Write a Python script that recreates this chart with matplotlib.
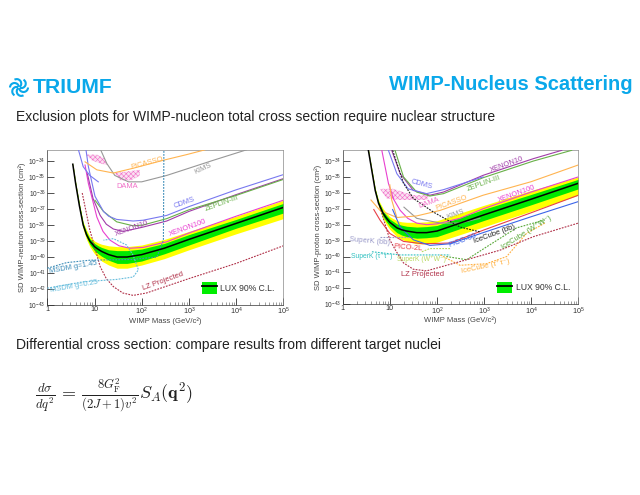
import numpy as np
import matplotlib
matplotlib.use('Agg')
import matplotlib.pyplot as plt
from matplotlib.patches import Arc, Patch
from matplotlib.lines import Line2D

plt.rcParams['font.family'] = ['Liberation Sans', 'DejaVu Sans']
plt.rcParams['mathtext.fontset'] = 'cm'
plt.rcParams['hatch.linewidth'] = 0.4

# All curves: log10(mass / GeV), log10(sigma / cm^2)
# ---------- left panel (SD WIMP-neutron)
L_lux_m = [.54,.60,.68,.76,.83,.90,1.0,1.08,1.15,1.30,1.48,1.69,2.0,2.48,3,4,5]
L_lux_s = [-34.2,-35.4,-36.8,-38.0,-38.6,-39.0,-39.35,-39.52,-39.65,-39.85,-40.0,-40.0,-39.85,-39.45,-38.9,-37.9,-36.9]
L_yel_hi = [-34.1,-35.3,-36.65,-37.8,-38.3,-38.7,-39.0,-39.12,-39.2,-39.3,-39.35,-39.35,-39.25,-38.9,-38.4,-37.45,-36.45]
L_yel_lo = [-34.3,-35.5,-36.95,-38.25,-38.9,-39.35,-39.8,-40.05,-40.25,-40.5,-40.7,-40.7,-40.5,-40.1,-39.55,-38.55,-37.6]
L_grn_hi = [-34.15,-35.35,-36.72,-37.9,-38.45,-38.85,-39.15,-39.3,-39.4,-39.55,-39.6,-39.6,-39.5,-39.15,-38.6,-37.65,-36.65]
L_grn_lo = [-34.25,-35.45,-36.88,-38.12,-38.75,-39.2,-39.6,-39.8,-39.95,-40.2,-40.4,-40.4,-40.25,-39.8,-39.25,-38.2,-37.25]

L_xe100_m = [.80,.87,1.05,1.18,1.33,1.52,1.75,2.03,2.53,3,4,5]
L_xe100_s = [-34.25,-35.4,-37.5,-38.4,-38.95,-39.3,-39.45,-39.4,-39.05,-38.5,-37.45,-36.45]
L_xe10_m = [.85,.97,1.12,1.25,1.4,1.61,2,2.53,3,4,5]
L_xe10_s = [-34.8,-36.35,-37.4,-37.95,-38.25,-38.4,-38.15,-37.75,-37.15,-36.1,-35.1]
L_zep_m = [1.01,1.19,1.47,1.82,2.03,2.53,3,4,5]
L_zep_s = [-36.45,-37.15,-37.8,-38.05,-38,-37.6,-37.05,-36.15,-35.15]
L_cdms_m = [.82,.87,1.01,1.19,1.3,1.47,1.82,2.03,2.53,3,4,5]
L_cdms_s = [-33.3,-34.35,-36.2,-37.15,-37.45,-37.65,-37.75,-37.7,-37.4,-36.85,-35.8,-34.85]
L_cdms2_m = [.66,.76,.90,1.08]
L_cdms2_s = [-33.3,-34.35,-34.9,-35.3]
L_kims_m = [1.13,1.26,1.43,1.72,2,2.53,3,3.52,4.22]
L_kims_s = [-33.3,-34.15,-34.9,-35.3,-35.3,-34.9,-34.45,-33.95,-33.3]
L_pic_m = [.8,1.05,1.4,1.82,2.46,2.95,3.34]
L_pic_s = [-34.05,-34.55,-34.75,-34.45,-33.95,-33.6,-33.3]
L_lz_m = [.74,.9,1.12,1.25,1.4,1.6,1.82,2.1,3,4,5]
L_lz_s = [-36.0,-38.3,-40.6,-41.35,-41.85,-42.25,-42.4,-42.25,-41.35,-40.4,-39.3]
L_ms145_m = [0,.41,.9,1.82,2.32,2.46,2.47]
L_ms145_s = [-40.7,-40.35,-40.2,-40.15,-40,-38.95,-33.3]
L_ms025_m = [0,.76,1.47,1.82,1.93,1.82,1.68,1.4,1.19]
L_ms025_s = [-41.95,-41.55,-41.4,-41.25,-40.8,-39.9,-39.25,-38.85,-38.95]
L_dama1_m = [.82,1.05,1.22,1.26,1.12,.94]
L_dama1_s = [-33.6,-33.6,-33.85,-34.25,-34.15,-33.95]
L_dama2_m = [1.43,1.96,1.96,1.79,1.54]
L_dama2_s = [-34.75,-34.55,-34.9,-35.2,-35.2]

# ---------- right panel (SD WIMP-proton)
R_lux_m = [.545,.69,.76,.86,.93,1,1.15,1.25,1.36,1.57,1.78,2,2.98,4,5]
R_lux_s = [-33.33,-35.85,-36.65,-37.3,-37.6,-37.85,-38.2,-38.32,-38.4,-38.5,-38.5,-38.4,-37.4,-36.4,-35.4]
R_yel_hi = [-33.25,-35.7,-36.45,-37.0,-37.28,-37.5,-37.75,-37.82,-37.85,-37.85,-37.82,-37.75,-36.8,-35.85,-35.0]
R_yel_lo = [-33.4,-36.0,-36.85,-37.65,-38.0,-38.3,-38.75,-38.92,-39.05,-39.2,-39.2,-39.1,-38.15,-37.15,-36.15]
R_grn_hi = [-33.3,-35.78,-36.55,-37.15,-37.42,-37.65,-37.95,-38.03,-38.1,-38.15,-38.12,-38.05,-37.05,-36.1,-35.15]
R_grn_lo = [-33.36,-35.92,-36.75,-37.5,-37.82,-38.1,-38.5,-38.65,-38.75,-38.85,-38.82,-38.75,-37.75,-36.75,-35.75]

R_xe100_m = [.83,.97,1.08,1.22,1.38,1.57,1.78,2,2.49,2.98,4,5]
R_xe100_s = [-33.33,-35.4,-36.4,-37.1,-37.6,-37.9,-38.0,-37.95,-37.6,-37,-35.95,-35]
R_xe10_m = [1.04,1.22,1.5,1.85,2.14,2.98,4.05,4.65]
R_xe10_s = [-33.33,-34.8,-35.85,-36.15,-35.95,-34.9,-33.85,-33.33]
R_zep_m = [1.11,1.29,1.57,1.85,2.14,2.98,4.05,4.86]
R_zep_s = [-33.33,-35,-35.95,-36.2,-36.05,-35.05,-34,-33.33]
R_cdms_m = [.97,1.15,1.39,1.78,2.14,2.98]
R_cdms_s = [-33.33,-34.8,-35.75,-36.05,-35.8,-35]
R_kims_m = [1.3,1.57,2.07,2.49,2.91]
R_kims_s = [-36.9,-37.6,-37.9,-37.9,-37.6]
R_pic_m = [.6,.79,1.15,1.57,2.07,2.98,4,5]
R_pic_s = [-36.45,-37.1,-37.55,-37.45,-37.1,-36.15,-35.3,-34.25]
R_pic2_m = [1,1.04,1.15]
R_pic2_s = [-35.5,-36.45,-37.55]
R_p2l_m = [.66,.79,1,1.29,1.71,2.28,2.98,4,5]
R_p2l_s = [-37.05,-37.7,-38.55,-39.05,-39.2,-39.15,-38.35,-37.25,-36.15]
R_p60_m = [1.06,1.22,1.5,1.85,2.28,2.98,4,5]
R_p60_s = [-37.05,-38.15,-38.95,-39.3,-39.2,-38.5,-37.5,-36.55]
R_icbb_m = [1.06,1.29,1.5,1.92,2.49,2.91]
R_icbb_s = [-33.33,-35.4,-36.35,-37.2,-38.15,-38.45]
R_skbb_m = [.79,1.43]
R_skbb_s = [-38.8,-38.8]
R_sktt_m = [.62,1.22,2.28]
R_sktt_s = [-39.7,-39.9,-39.9]
R_skww_m = [1.68,1.85,2.28]
R_skww_s = [-39.7,-39.5,-39.5]
R_icww_m = [2.2,2.63,3.05,3.69,4.29]
R_icww_s = [-40,-40.2,-39.4,-38.2,-37.7]
R_ictt_m = [2.07,2.49,3.05,3.48,3.9,4.29]
R_ictt_s = [-39.9,-40.55,-40.45,-40,-38.55,-37.9]
R_lz_m = [.79,1,1.12,1.29,1.5,1.78,2.63,3.34,4.05,5]
R_lz_s = [-36.9,-38.95,-39.6,-40.4,-40.8,-40.9,-40.2,-39.6,-38.75,-37.9]
R_dama_m = [.79,1.07,1.5,1.85,1.78,1.22,.93]
R_dama_s = [-35.75,-35.75,-36.15,-36.15,-36.45,-36.45,-36.35]

title = 'WIMP-Nucleus Scattering'
line1 = 'Exclusion plots for WIMP-nucleon total cross section require nuclear structure'
line2 = 'Differential cross section: compare results from different target nuclei'
equation = r'$\frac{d\sigma}{dq^2}\,=\,\frac{8G_{\mathrm{F}}^2}{(2J+1)v^2}S_A(\mathbf{q}^2)$'

BLUE_T = '#0aa8ea'
C = dict(xe100='#e83fd0', xe10='#a03ca8', zep='#68b048', cdms='#7878f0', kims='#989898',
         pic='#ffb450', lz='#b03048', ms145='#3c8cb8', ms025='#64bcdc', dama='#f070c8',
         p2l='#e84048', p60='#3c64e8', icbb='#202020', skbb='#9898c8', sktt='#30c0c0',
         skww='#b8d860', icww='#58a838', ictt='#ffb040')

W, H = 640, 495
fig = plt.figure(figsize=(W / 100, H / 100), dpi=100, facecolor='white')


def make_axes(x0, x1, y0, y1):
    ax = fig.add_axes([x0 / W, 1 - y1 / H, (x1 - x0) / W, (y1 - y0) / H])
    ax.set_xscale('log')
    ax.set_yscale('log')
    ax.set_xlim(1, 1e5)
    ax.set_ylim(1e-43, 10 ** -33.31)
    ax.set_yticks([10.0 ** e for e in range(-43, -33)])
    ax.set_xticks([10.0 ** e for e in range(0, 6)])
    ax.set_xticklabels(['1', '10', '$\\mathdefault{10^{2}}$', '$\\mathdefault{10^{3}}$',
                        '$\\mathdefault{10^{4}}$', '$\\mathdefault{10^{5}}$'])
    ax.xaxis.set_minor_locator(matplotlib.ticker.LogLocator(10, subs=np.arange(2, 10), numticks=12))
    ax.yaxis.set_minor_locator(matplotlib.ticker.NullLocator())
    ax.tick_params(which='major', direction='in', length=5, width=0.6, labelsize=4.8,
                   color='#333333', labelcolor='#333333', pad=1.2)
    ax.tick_params(axis='x', which='major', labelsize=5.2, pad=0.8)
    ax.tick_params(which='minor', direction='in', length=2.2, width=0.4, color='#555555')
    for s in ax.spines.values():
        s.set_linewidth(0.5)
        s.set_color('#888888')
    ax.spines['left'].set_color('#333333')
    ax.spines['bottom'].set_color('#333333')
    ax.set_xlabel('WIMP Mass (GeV/c²)', fontsize=5.5, color='#444444')
    ax.xaxis.set_label_coords(0.5, -0.078)
    return ax


def curve(ax, m, s, color, dashed=False, lw=0.8):
    ax.plot(10.0 ** np.array(m), 10.0 ** np.array(s), color=color, lw=lw,
            ls=(0, (1.6, 1.1)) if dashed else '-', solid_joinstyle='round', zorder=3)


def band(ax, m, hi, lo, color, z):
    ax.fill_between(10.0 ** np.array(m), 10.0 ** np.array(lo), 10.0 ** np.array(hi),
                    color=color, lw=0, zorder=z)


def blob(ax, m, s):
    ax.fill(10.0 ** np.array(m), 10.0 ** np.array(s), facecolor='#fbe0f2', edgecolor=C['dama'],
            hatch='xxxxxxx', lw=0, zorder=2)


def lab(ax, fx, fy, text, color, rot=0, size=5.4):
    ax.text(fx, fy, text, transform=ax.transAxes, color=color, fontsize=size, rotation=rot,
            ha='center', va='center', rotation_mode='anchor', zorder=6)


def legend(ax, fx, fy):
    h = (Patch(facecolor='#00ee00', edgecolor='none'), Line2D([0], [0], color='black', lw=1.3))
    leg = ax.legend([h], ['LUX 90% C.L.'], frameon=False, fontsize=6.2, handlelength=1.65,
                    handleheight=1.7, handletextpad=0.45, labelcolor='#333333',
                    loc='center left', bbox_to_anchor=(fx, fy), borderaxespad=0, borderpad=0)
    leg.set_zorder(7)


# ---- left
ax = make_axes(47.3, 283.3, 150, 305)
ax.set_ylabel('SD WIMP-neutron cross-section (cm²)', fontsize=5.5, color='#444444')
ax.yaxis.set_label_coords(-0.089, 0.5)
band(ax, L_lux_m, L_yel_hi, L_yel_lo, '#ffff00', 1)
band(ax, L_lux_m, L_grn_hi, L_grn_lo, '#00e800', 1.5)
blob(ax, L_dama1_m, L_dama1_s)
blob(ax, L_dama2_m, L_dama2_s)
curve(ax, L_xe100_m, L_xe100_s, C['xe100'])
curve(ax, L_xe10_m, L_xe10_s, C['xe10'])
curve(ax, L_zep_m, L_zep_s, C['zep'])
curve(ax, L_cdms_m, L_cdms_s, C['cdms'])
curve(ax, L_cdms2_m, L_cdms2_s, C['cdms'])
curve(ax, L_kims_m, L_kims_s, C['kims'])
curve(ax, L_pic_m, L_pic_s, C['pic'])
curve(ax, L_lz_m, L_lz_s, C['lz'], True)
curve(ax, L_ms145_m, L_ms145_s, C['ms145'], True)
curve(ax, L_ms025_m, L_ms025_s, C['ms025'], True)
curve(ax, L_lux_m, L_lux_s, 'black', lw=1.1)
for fx, fy, t, c, r in [(.424, .914, 'PICASSO', C['pic'], 15), (.661, .882, 'KIMS', C['kims'], 25),
                        (.339, .763, 'DAMA', C['dama'], 0), (.582, .656, 'CDMS', C['cdms'], 20),
                        (.739, .652, 'ZEPLIN-III', C['zep'], 20), (.597, .495, 'XENON100', C['xe100'], 20),
                        (.357, .49, 'XENON10', C['xe10'], 20), (.11, .24, 'MSDM g=1.45', C['ms145'], 10),
                        (.115, .12, 'MSDM g=0.25', C['ms025'], 10),
                        (.49, .155, 'LZ Projected', C['lz'], 20)]:
    lab(ax, fx, fy, t, c, r)
legend(ax, .657, .11)

# ---- right
ax = make_axes(342.7, 578.3, 150, 304.3)
ax.set_ylabel('SD WIMP-proton cross-section (cm²)', fontsize=5.5, color='#444444')
ax.yaxis.set_label_coords(-0.089, 0.5)
band(ax, R_lux_m, R_yel_hi, R_yel_lo, '#ffff00', 1)
band(ax, R_lux_m, R_grn_hi, R_grn_lo, '#00e800', 1.5)
blob(ax, R_dama_m, R_dama_s)
curve(ax, R_xe100_m, R_xe100_s, C['xe100'])
curve(ax, R_xe10_m, R_xe10_s, C['xe10'])
curve(ax, R_zep_m, R_zep_s, C['zep'])
curve(ax, R_cdms_m, R_cdms_s, C['cdms'])
curve(ax, R_kims_m, R_kims_s, C['kims'])
curve(ax, R_pic_m, R_pic_s, C['pic'])
curve(ax, R_pic2_m, R_pic2_s, C['pic'])
curve(ax, R_p2l_m, R_p2l_s, C['p2l'])
curve(ax, R_p60_m, R_p60_s, C['p60'])
curve(ax, R_icbb_m, R_icbb_s, C['icbb'], True)
curve(ax, R_skbb_m, R_skbb_s, C['skbb'], True)
curve(ax, R_sktt_m, R_sktt_s, C['sktt'], True)
curve(ax, R_skww_m, R_skww_s, C['skww'], True)
curve(ax, R_icww_m, R_icww_s, C['icww'], True)
curve(ax, R_ictt_m, R_ictt_s, C['ictt'], True)
curve(ax, R_lz_m, R_lz_s, C['lz'], True)
curve(ax, R_lux_m, R_lux_s, 'black', lw=1.1)
for fx, fy, t, c, r in [(.335, .778, 'CDMS', C['cdms'], -15), (.368, .66, 'DAMA', C['dama'], 20),
                        (.4625, .66, 'PICASSO', C['pic'], 20), (.48, .585, 'KIMS', C['kims'], 20),
                        (.696, .903, 'XENON10', C['xe10'], 20), (.597, .784, 'ZEPLIN-III', C['zep'], 20),
                        (.738, .713, 'XENON100', C['xe100'], 20),
                        (.646, .453, 'IceCube (b\u0304b)', C['icbb'], 20),
                        (.51, .41, 'PICO-60', C['p60'], 20), (.279, .367, 'PICO-2L', C['p2l'], -5),
                        (.116, .41, 'SuperK (b\u0304b)', C['skbb'], -5),
                        (.604, .248, 'IceCube (τ⁺τ⁻)', C['ictt'], 12),
                        (.778, .464, 'IceCube (W⁺W⁻)', C['icww'], 32),
                        (.34, .194, 'LZ Projected', C['lz'], 0)]:
    lab(ax, fx, fy, t, c, r)
lab(ax, .125, .309, 'SuperK (τ⁺τ⁻)', C['sktt'], 0, size=4.9)
lab(ax, .335, .294, 'SuperK (W⁺W⁻)', C['skww'], 0, size=4.9)
legend(ax, .657, .11)

# ---- slide furniture
fig.text(633 / W, 1 - 85 / H, title, color=BLUE_T, fontsize=14.5, fontweight='bold', ha='right', va='center')
fig.text(33 / W, 1 - 87.5 / H, 'TRIUMF', color=BLUE_T, fontsize=15.2, fontweight='bold', ha='left', va='center')
fig.text(16 / W, 1 - 117 / H, line1, color='#222222', fontsize=10.04, ha='left', va='center')
fig.text(16 / W, 1 - 345 / H, line2, color='#222222', fontsize=10.04, ha='left', va='center')
fig.text(35 / W, 1 - 395 / H, equation, color='#222222', fontsize=13, ha='left', va='center')

deco = fig.add_axes([0, 0, 1, 1], zorder=10)
deco.set_xlim(0, W)
deco.set_ylim(H, 0)
deco.axis('off')
for ang in (0, 60, 120, 180, 240, 300):
    a = np.deg2rad(ang)
    deco.add_patch(Arc((19 + 4.5 * np.cos(a), 87.5 + 4.5 * np.sin(a)), 9, 9, angle=ang,
                       theta1=0, theta2=170, color=BLUE_T, lw=1.5))

fig.savefig('out.png', dpi=100)
